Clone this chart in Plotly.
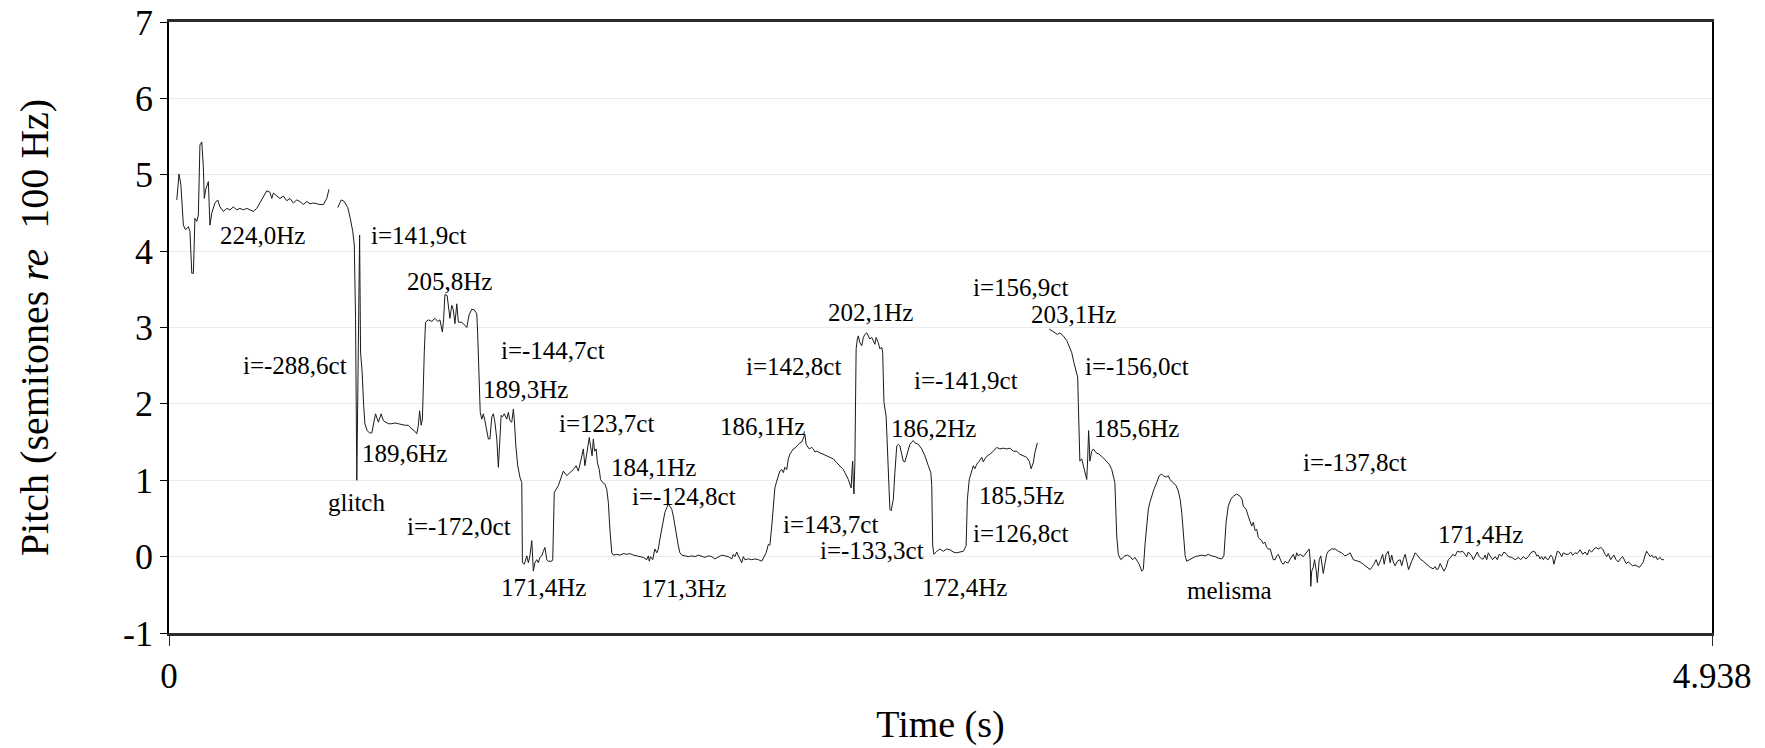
import plotly.graph_objects as go

# Pitch contour, three voiced stretches: (time in s, pitch in semitones)
contour_a = [
    (0.025, 4.67), (0.032, 5.01), (0.038, 4.87), (0.046, 4.34), (0.053, 4.28), (0.062, 4.32),
    (0.067, 4.26), (0.073, 3.71), (0.078, 3.71), (0.083, 4.43), (0.089, 4.39), (0.094, 4.47),
    (0.099, 5.39), (0.105, 5.43), (0.110, 5.09), (0.113, 4.69), (0.117, 4.80), (0.126, 4.91),
    (0.131, 4.34), (0.137, 4.50), (0.147, 4.63), (0.156, 4.67), (0.163, 4.58), (0.174, 4.52),
    (0.185, 4.56), (0.195, 4.54), (0.206, 4.58), (0.217, 4.54), (0.227, 4.56), (0.238, 4.54),
    (0.249, 4.56), (0.259, 4.54), (0.270, 4.52), (0.281, 4.56), (0.291, 4.63), (0.302, 4.72),
    (0.313, 4.79), (0.323, 4.77), (0.329, 4.69), (0.334, 4.76), (0.345, 4.72), (0.355, 4.69),
    (0.366, 4.72), (0.377, 4.66), (0.387, 4.69), (0.398, 4.63), (0.409, 4.67), (0.419, 4.65),
    (0.430, 4.61), (0.441, 4.65), (0.451, 4.62), (0.462, 4.63), (0.473, 4.62), (0.483, 4.61),
    (0.494, 4.61), (0.505, 4.69), (0.512, 4.81),
]

contour_b = [
    (0.540, 4.57), (0.551, 4.67), (0.561, 4.65), (0.572, 4.57), (0.580, 4.43), (0.588, 4.26),
    (0.593, 4.08), (0.597, 3.12), (0.601, 1.00), (0.605, 2.68), (0.610, 4.21), (0.613, 2.68),
    (0.618, 2.42), (0.623, 1.98), (0.627, 1.74), (0.634, 1.65), (0.642, 1.62), (0.649, 1.62),
    (0.654, 1.72), (0.661, 1.87), (0.670, 1.76), (0.679, 1.87), (0.686, 1.78), (0.693, 1.76),
    (0.702, 1.74), (0.713, 1.74), (0.723, 1.75), (0.734, 1.74), (0.745, 1.73), (0.755, 1.72),
    (0.766, 1.72), (0.777, 1.67), (0.785, 1.65), (0.793, 1.61), (0.798, 1.72), (0.802, 1.91),
    (0.807, 1.72), (0.811, 1.80), (0.817, 2.68), (0.821, 3.07), (0.830, 3.10), (0.841, 3.08),
    (0.851, 3.12), (0.860, 3.08), (0.867, 3.10), (0.875, 2.94), (0.879, 3.12), (0.883, 3.43),
    (0.890, 3.42), (0.894, 3.29), (0.899, 3.12), (0.905, 3.29), (0.910, 3.23), (0.915, 3.05),
    (0.921, 3.31), (0.926, 3.07), (0.935, 3.07), (0.942, 3.05), (0.953, 3.00), (0.960, 3.16),
    (0.969, 3.24), (0.977, 3.23), (0.985, 3.18), (0.988, 2.90), (0.992, 2.24), (0.996, 1.89),
    (1.001, 1.80), (1.006, 1.87), (1.011, 1.78), (1.017, 1.67), (1.022, 1.54), (1.027, 1.54),
    (1.033, 1.83), (1.038, 1.87), (1.043, 1.76), (1.049, 1.54), (1.054, 1.17), (1.059, 1.54),
    (1.063, 1.85), (1.067, 1.83), (1.073, 1.87), (1.081, 1.80), (1.086, 1.89), (1.091, 1.78),
    (1.097, 1.76), (1.102, 1.93), (1.105, 1.80), (1.110, 1.45), (1.116, 1.19), (1.123, 1.04),
    (1.129, 0.97), (1.131, -0.08), (1.137, -0.10), (1.145, 0.01), (1.150, -0.08), (1.155, 0.01),
    (1.161, 0.21), (1.166, -0.19), (1.171, -0.08), (1.177, -0.04), (1.182, -0.08), (1.187, -0.01),
    (1.193, 0.01), (1.198, 0.07), (1.203, 0.12), (1.209, -0.04), (1.214, -0.06), (1.225, -0.06),
    (1.228, -0.04), (1.233, 0.84), (1.238, 0.88), (1.246, 0.93),
    (1.262, 1.12), (1.273, 1.06), (1.283, 1.10), (1.294, 1.14), (1.303, 1.19), (1.310, 1.12),
    (1.317, 1.24), (1.326, 1.41), (1.331, 1.19), (1.337, 1.36), (1.342, 1.47), (1.345, 1.56),
    (1.349, 1.45), (1.354, 1.32), (1.358, 1.54), (1.362, 1.38), (1.367, 1.41), (1.371, 1.23),
    (1.377, 1.14), (1.381, 1.01), (1.388, 0.97), (1.395, 0.95), (1.401, 0.88), (1.406, 0.71),
    (1.411, 0.36), (1.417, 0.05), (1.422, 0.02), (1.433, 0.03), (1.443, 0.02), (1.454, 0.04),
    (1.465, 0.03), (1.475, 0.04), (1.486, 0.02), (1.497, 0.01), (1.507, 0.01), (1.518, -0.01),
    (1.529, -0.04), (1.534, 0.01), (1.537, -0.06), (1.541, 0.00), (1.548, -0.04), (1.555, 0.10),
    (1.561, 0.05), (1.566, 0.10), (1.571, 0.23), (1.577, 0.36), (1.582, 0.45), (1.587, 0.58),
    (1.593, 0.64), (1.598, 0.69), (1.603, 0.66), (1.609, 0.62), (1.614, 0.53), (1.619, 0.40),
    (1.625, 0.27), (1.630, 0.14), (1.635, 0.05), (1.641, 0.02), (1.651, 0.01), (1.662, 0.00),
    (1.673, 0.01), (1.683, 0.00), (1.694, 0.02), (1.705, 0.00), (1.715, -0.01), (1.726, 0.01),
    (1.737, 0.00), (1.747, -0.03), (1.758, 0.00), (1.769, 0.02), (1.779, 0.01), (1.790, 0.00),
    (1.801, -0.03), (1.806, 0.03), (1.811, 0.00), (1.817, 0.06), (1.822, 0.01), (1.827, -0.03),
    (1.833, -0.08), (1.838, 0.00), (1.843, -0.04), (1.854, -0.03), (1.865, -0.04), (1.875, -0.03),
    (1.886, -0.04), (1.897, -0.06), (1.904, 0.00), (1.911, 0.05), (1.918, 0.16), (1.923, 0.15),
    (1.929, 0.40), (1.934, 0.71), (1.939, 0.90), (1.945, 0.99), (1.950, 1.06), (1.955, 1.12),
    (1.961, 1.14), (1.966, 1.10), (1.971, 1.17), (1.977, 1.14), (1.982, 1.28), (1.987, 1.34),
    (1.993, 1.38), (1.998, 1.41), (2.003, 1.42), (2.009, 1.45), (2.014, 1.47), (2.019, 1.49),
    (2.025, 1.50), (2.030, 1.54), (2.035, 1.60), (2.039, 1.47), (2.043, 1.45), (2.049, 1.41),
    (2.057, 1.43), (2.062, 1.41), (2.067, 1.37), (2.073, 1.38), (2.083, 1.36), (2.094, 1.34),
    (2.105, 1.32), (2.115, 1.30), (2.126, 1.28), (2.137, 1.23), (2.147, 1.19), (2.158, 1.14),
    (2.163, 1.10), (2.169, 1.06), (2.174, 1.01), (2.179, 0.95), (2.183, 0.90), (2.186, 1.14),
    (2.188, 1.25), (2.190, 0.97), (2.192, 0.82), (2.195, 1.23), (2.199, 2.72), (2.203, 2.85),
    (2.206, 2.89), (2.211, 2.80), (2.217, 2.76), (2.222, 2.87), (2.227, 2.91), (2.233, 2.93),
    (2.238, 2.89), (2.243, 2.85), (2.249, 2.87), (2.254, 2.83), (2.259, 2.78), (2.263, 2.87),
    (2.267, 2.83), (2.270, 2.80), (2.275, 2.72), (2.281, 2.74), (2.284, 2.67), (2.288, 2.02),
    (2.295, 1.84), (2.302, 1.23), (2.307, 0.62), (2.311, 0.60), (2.315, 0.71), (2.318, 0.75),
    (2.323, 1.10), (2.329, 1.45), (2.334, 1.47), (2.339, 1.45), (2.345, 1.34), (2.350, 1.25),
    (2.355, 1.24), (2.361, 1.32), (2.366, 1.41), (2.371, 1.47), (2.377, 1.50), (2.382, 1.52),
    (2.387, 1.49), (2.398, 1.47), (2.409, 1.41), (2.419, 1.32), (2.430, 1.19), (2.438, 1.10),
    (2.441, 0.93), (2.444, 0.14), (2.448, 0.03), (2.457, 0.07), (2.467, 0.10), (2.478, 0.07),
    (2.489, 0.10), (2.499, 0.09), (2.510, 0.06), (2.521, 0.05), (2.531, 0.06), (2.542, 0.07),
    (2.551, 0.14), (2.555, 0.75), (2.561, 1.01), (2.569, 1.14), (2.574, 1.19), (2.579, 1.15),
    (2.585, 1.21), (2.593, 1.25), (2.601, 1.30), (2.606, 1.24), (2.611, 1.28), (2.619, 1.32),
    (2.627, 1.34), (2.638, 1.38), (2.649, 1.43), (2.659, 1.41), (2.670, 1.42), (2.681, 1.41),
    (2.691, 1.42), (2.702, 1.38), (2.713, 1.38), (2.723, 1.34), (2.734, 1.32), (2.745, 1.30),
    (2.753, 1.25), (2.759, 1.15), (2.766, 1.23), (2.771, 1.36), (2.779, 1.49),
]

contour_c = [
    (2.817, 2.98), (2.825, 2.96), (2.835, 2.93), (2.843, 2.91), (2.851, 2.93), (2.862, 2.89),
    (2.873, 2.83), (2.881, 2.76), (2.889, 2.67), (2.896, 2.54), (2.903, 2.41), (2.908, 2.35),
    (2.910, 2.02), (2.913, 1.58), (2.915, 1.25), (2.921, 1.28), (2.926, 1.19), (2.931, 1.08),
    (2.937, 1.01), (2.940, 1.28), (2.943, 1.65), (2.945, 1.49), (2.947, 1.25), (2.953, 1.38),
    (2.958, 1.41), (2.967, 1.36), (2.977, 1.34), (2.988, 1.30), (2.999, 1.25), (3.009, 1.21),
    (3.017, 1.14), (3.022, 1.04), (3.027, 0.97), (3.033, 0.27), (3.038, 0.03), (3.046, -0.04),
    (3.052, -0.01), (3.059, 0.01), (3.067, 0.02), (3.076, 0.00), (3.084, -0.04), (3.091, -0.01),
    (3.099, -0.06), (3.105, -0.10), (3.113, -0.19), (3.118, -0.17), (3.124, 0.18), (3.129, 0.45),
    (3.134, 0.62), (3.139, 0.71), (3.145, 0.79), (3.152, 0.88), (3.161, 0.97), (3.169, 1.06),
    (3.177, 1.08), (3.182, 1.06), (3.191, 1.04), (3.198, 1.06), (3.203, 1.01), (3.212, 0.97),
    (3.223, 0.93), (3.230, 0.86), (3.236, 0.75), (3.241, 0.58), (3.246, 0.27), (3.252, 0.01),
    (3.257, -0.06), (3.265, -0.04), (3.273, -0.03), (3.284, 0.00), (3.294, 0.01), (3.305, 0.02),
    (3.316, 0.01), (3.326, 0.03), (3.337, 0.01), (3.348, 0.00), (3.358, -0.02), (3.369, -0.03),
    (3.376, 0.01), (3.383, 0.45), (3.390, 0.66), (3.398, 0.75), (3.406, 0.79), (3.417, 0.82),
    (3.428, 0.79), (3.434, 0.75), (3.438, 0.66), (3.447, 0.62), (3.454, 0.53), (3.460, 0.47),
    (3.465, 0.40), (3.470, 0.45), (3.476, 0.34), (3.481, 0.36), (3.486, 0.25), (3.491, 0.23),
    (3.497, 0.21), (3.502, 0.17), (3.507, 0.19), (3.513, 0.12), (3.518, 0.10), (3.524, 0.10),
    (3.529, 0.01), (3.534, -0.04), (3.540, -0.04), (3.545, 0.01), (3.550, 0.03), (3.556, -0.04),
    (3.561, -0.08), (3.566, -0.10), (3.572, -0.06), (3.577, -0.08), (3.582, -0.08), (3.588, -0.03),
    (3.593, 0.01), (3.598, 0.03), (3.604, -0.04), (3.609, 0.05), (3.614, 0.01), (3.620, 0.03),
    (3.630, 0.00), (3.641, 0.06), (3.649, 0.10), (3.652, -0.04), (3.654, -0.39), (3.657, -0.19),
    (3.662, -0.14), (3.666, -0.04), (3.671, -0.17), (3.675, -0.34), (3.678, -0.21), (3.681, -0.04),
    (3.686, 0.01), (3.694, -0.22), (3.699, -0.10), (3.705, 0.03), (3.710, 0.07), (3.721, 0.10),
    (3.732, 0.10), (3.742, 0.07), (3.753, 0.05), (3.763, 0.01), (3.774, 0.03), (3.780, 0.05),
    (3.790, -0.04), (3.801, -0.06), (3.812, -0.07), (3.822, -0.10), (3.833, -0.13), (3.844, -0.17),
    (3.849, -0.14), (3.856, -0.10), (3.863, -0.04), (3.870, -0.12), (3.878, -0.04), (3.884, 0.03),
    (3.889, -0.10), (3.895, 0.03), (3.902, 0.07), (3.908, -0.08), (3.913, 0.02), (3.918, -0.07),
    (3.924, -0.12), (3.931, -0.06), (3.940, -0.04), (3.945, -0.12), (3.950, -0.04), (3.956, 0.03),
    (3.961, -0.06), (3.967, -0.17), (3.977, -0.06), (3.988, 0.05), (3.995, 0.02), (4.004, -0.03),
    (4.014, -0.06), (4.025, -0.10), (4.036, -0.14), (4.046, -0.16), (4.052, -0.13), (4.057, -0.17),
    (4.062, -0.16), (4.068, -0.09), (4.073, -0.14), (4.080, -0.19), (4.087, -0.14), (4.094, -0.04),
    (4.102, -0.01), (4.108, 0.03), (4.116, 0.01), (4.123, 0.07), (4.132, 0.06), (4.140, 0.07),
    (4.148, 0.03), (4.153, 0.00), (4.158, 0.06), (4.164, 0.03), (4.169, 0.01), (4.174, -0.04),
    (4.180, 0.00), (4.187, 0.06), (4.193, 0.00), (4.201, -0.03), (4.206, -0.03), (4.212, 0.02),
    (4.217, -0.04), (4.222, 0.05), (4.228, 0.01), (4.236, -0.04), (4.244, 0.00), (4.251, -0.04),
    (4.257, 0.03), (4.265, 0.01), (4.272, 0.06), (4.279, 0.04), (4.286, 0.00), (4.297, -0.01),
    (4.308, -0.04), (4.318, -0.01), (4.326, -0.04), (4.334, 0.00), (4.343, -0.03), (4.350, 0.00),
    (4.358, 0.05), (4.366, 0.07), (4.372, 0.06), (4.377, 0.01), (4.382, 0.02), (4.388, -0.03),
    (4.393, 0.00), (4.398, -0.04), (4.404, 0.00), (4.409, -0.03), (4.414, -0.04), (4.422, 0.02),
    (4.428, -0.01), (4.432, -0.10), (4.439, 0.01), (4.443, 0.07), (4.449, 0.06), (4.457, 0.00),
    (4.462, 0.05), (4.471, 0.03), (4.478, 0.03), (4.486, 0.06), (4.492, 0.02), (4.500, 0.05),
    (4.507, 0.04), (4.516, 0.09), (4.524, 0.03), (4.532, 0.06), (4.539, 0.02), (4.545, 0.09),
    (4.553, 0.06), (4.560, 0.10), (4.567, 0.12), (4.574, 0.10), (4.582, 0.12), (4.588, 0.10),
    (4.596, 0.03), (4.601, 0.00), (4.606, 0.04), (4.614, -0.04), (4.620, 0.00), (4.624, 0.02),
    (4.631, -0.04), (4.638, -0.07), (4.644, -0.03), (4.652, 0.00), (4.656, -0.03), (4.663, -0.09),
    (4.670, -0.07), (4.678, -0.10), (4.684, -0.12), (4.692, -0.11), (4.699, -0.13), (4.706, -0.14),
    (4.713, -0.10), (4.718, -0.07), (4.724, 0.02), (4.729, 0.07), (4.734, 0.04), (4.740, 0.00),
    (4.745, 0.02), (4.750, -0.01), (4.759, 0.00), (4.763, -0.04), (4.772, -0.01), (4.777, -0.04),
    (4.784, -0.04),
]

# Text labels placed in data coordinates: (text, time, semitones)
labels = [
    ("224,0Hz", 0.299, 4.21),
    ("i=141,9ct", 0.799, 4.20),
    ("205,8Hz", 0.899, 3.60),
    ("i=-288,6ct", 0.402, 2.50),
    ("i=-144,7ct", 1.228, 2.70),
    ("189,3Hz", 1.142, 2.19),
    ("189,6Hz", 0.753, 1.35),
    ("glitch", 0.600, 0.71),
    ("i=-172,0ct", 0.929, 0.39),
    ("171,4Hz", 1.199, -0.40),
    ("i=123,7ct", 1.399, 1.74),
    ("184,1Hz", 1.550, 1.17),
    ("i=-124,8ct", 1.648, 0.79),
    ("171,3Hz", 1.648, -0.42),
    ("186,1Hz", 1.900, 1.70),
    ("i=142,8ct", 1.998, 2.49),
    ("202,1Hz", 2.246, 3.20),
    ("i=143,7ct", 2.118, 0.42),
    ("i=-133,3ct", 2.249, 0.08),
    ("i=-141,9ct", 2.550, 2.30),
    ("186,2Hz", 2.446, 1.68),
    ("172,4Hz", 2.547, -0.40),
    ("185,5Hz", 2.729, 0.80),
    ("i=126,8ct", 2.726, 0.30),
    ("i=156,9ct", 2.726, 3.52),
    ("203,1Hz", 2.896, 3.17),
    ("i=-156,0ct", 3.097, 2.49),
    ("185,6Hz", 3.097, 1.68),
    ("melisma", 3.394, -0.45),
    ("i=-137,8ct", 3.797, 1.23),
    ("171,4Hz", 4.196, 0.29),
]

x_end = 4.938
y_ticks = list(range(-1, 8))

SERIF = "Liberation Serif, Times New Roman, serif"

# Join the stretches with gaps between them
times, pitches = [], []
for seg in (contour_a, contour_b, contour_c):
    times.extend(p[0] for p in seg)
    pitches.extend(p[1] for p in seg)
    times.append(None)
    pitches.append(None)

fig = go.Figure()
fig.add_trace(go.Scatter(
    x=times, y=pitches, mode="lines",
    line=dict(color="#1a1a1a", width=1),
    connectgaps=False, hoverinfo="skip", showlegend=False,
))

for text, t, st in labels:
    fig.add_annotation(
        x=t, y=st, text=text, showarrow=False,
        xanchor="center", yanchor="middle",
        font=dict(family=SERIF, size=25, color="black"),
    )

fig.update_layout(
    width=1765, height=748,
    margin=dict(l=169, r=53, t=22, b=115, autoexpand=False),
    paper_bgcolor="white", plot_bgcolor="white",
    font=dict(family=SERIF, color="black"),
    showlegend=False,
)

fig.update_xaxes(
    range=[0, x_end], tickvals=[0, x_end], ticktext=["0", "4.938"],
    showgrid=False, zeroline=False,
    showline=True, linewidth=3, linecolor="#2b2b2b", mirror=True,
    ticks="outside", ticklen=10, tickwidth=1, tickcolor="#2b2b2b",
    tickfont=dict(family=SERIF, size=35, color="black"),
    title=dict(text="Time (s)", font=dict(family=SERIF, size=38, color="black"), standoff=16),
    automargin=False,
)

fig.update_yaxes(
    range=[-1, 7], tickvals=y_ticks, ticktext=[str(v) for v in y_ticks],
    showgrid=True, gridcolor="#ebebeb", gridwidth=1, zeroline=False,
    showline=True, linewidth=1.5, linecolor="black", mirror=True,
    ticks="outside", ticklen=7, tickwidth=1, tickcolor="black",
    tickfont=dict(family=SERIF, size=36, color="black"),
    title=dict(text="Pitch (semitones <i>re</i>\u00a0 100 Hz)",
               font=dict(family=SERIF, size=40, color="black"), standoff=62),
    automargin=False,
)

fig.write_html("out.html")
